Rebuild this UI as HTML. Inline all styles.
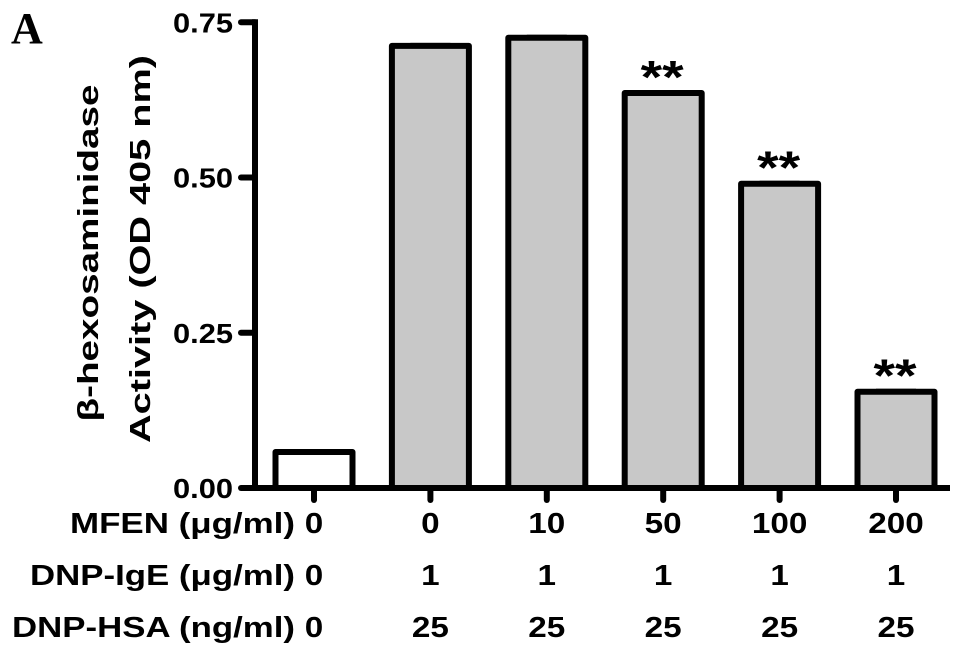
<!DOCTYPE html>
<html><head><meta charset="utf-8"><style>
html,body{margin:0;padding:0;background:#fff;}
svg{display:block;}
text{font-family:"Liberation Sans",Arial,sans-serif;font-weight:bold;fill:#000;}
</style></head><body>
<svg id="chart" width="969" height="659" viewBox="0 0 969 659">
<text x="11" y="43" style="font-family:'Liberation Serif',serif;font-size:44px">A</text>
<g transform="translate(88,253) rotate(-90)"><text x="0" y="10" text-anchor="middle" font-size="29" textLength="337" lengthAdjust="spacingAndGlyphs">β-hexosaminidase</text></g>
<g transform="translate(140,249) rotate(-90)"><text x="0" y="10" text-anchor="middle" font-size="29" textLength="388" lengthAdjust="spacingAndGlyphs">Activity (OD 405 nm)</text></g>
<g id="plot"></g>
</svg>
<script>
const categories=["c1","c2","c3","c4","c5","c6"];
const values=[0.058,0.712,0.725,0.636,0.490,0.155];
const sig=["","","","**","**","**"];
const yTicks=[0,0.25,0.5,0.75];
const yTickLabels=["0.00","0.25","0.50","0.75"];
const rowLabels=["MFEN (μg/ml)","DNP-IgE (μg/ml)","DNP-HSA (ng/ml)"];
const mfen=["0","0","10","50","100","200"];
const ige=["0","1","1","1","1","1"];
const hsa=["0","25","25","25","25","25"];
const fills=["#fff","#c8c8c8","#c8c8c8","#c8c8c8","#c8c8c8","#c8c8c8"];

const NS="http://www.w3.org/2000/svg";
const g=document.getElementById('plot');
const y0=488,pxPer=621,axisX=255;
function yS(v){return y0-v*pxPer;}
function xS(i){return 314+i*116.4;}
function mk(tag,attrs,txt){const e=document.createElementNS(NS,tag);for(const k in attrs)e.setAttribute(k,attrs[k]);if(txt!==undefined)e.textContent=txt;g.appendChild(e);return e;}

values.forEach((v,i)=>{
  const cx=xS(i),top=yS(v);
  const r=mk('rect',{x:cx-38.5,y:top,width:77,height:y0-top,fill:fills[i],stroke:'#000','stroke-width':6,'stroke-linejoin':'round'});
  
  
  if(i>0){
    const e=mk('line',{x1:cx-20,x2:cx+20,y1:top-1.5,y2:top-1.5,stroke:'#000','stroke-width':3});
    
    
  }
  if(sig[i]){
    const t=mk('text',{x:cx-1,y:top,'text-anchor':'middle','font-size':46,textLength:43,lengthAdjust:'spacingAndGlyphs'},sig[i]);
    
    
  }
  const tk=mk('line',{x1:cx,x2:cx,y1:y0,y2:500,stroke:'#000','stroke-width':6,'stroke-linecap':'round'});
  
  
  [[mfen,533],[ige,585],[hsa,637]].forEach(([arr,yy])=>{
    const s=arr[i];
    const t=mk('text',{x:cx,y:yy,'text-anchor':'middle','font-size':29,textLength:s.length*18.5,lengthAdjust:'spacingAndGlyphs'},s);
    
    
  });
});
// axes
const ya=mk('line',{x1:axisX,x2:axisX,y1:yS(0.75)-3,y2:y0+3,stroke:'#000','stroke-width':6});


const xa=mk('line',{x1:axisX-3,x2:950,y1:y0,y2:y0,stroke:'#000','stroke-width':6});


yTicks.forEach((v,i)=>{
  const l=mk('line',{x1:axisX-14,x2:axisX,y1:yS(v),y2:yS(v),stroke:'#000','stroke-width':6,'stroke-linecap':'round'});
  
  
  const t=mk('text',{x:173,y:yS(v)+10,'font-size':28,textLength:60,lengthAdjust:'spacingAndGlyphs'},yTickLabels[i]);
  
  
});
const rowStarts=[70,30,12];
[533,585,637].forEach((yy,i)=>{
  const t=mk('text',{x:rowStarts[i],y:yy,'font-size':29,textLength:295-rowStarts[i],lengthAdjust:'spacingAndGlyphs'},rowLabels[i]);
  
  
});
</script>
</body></html>
